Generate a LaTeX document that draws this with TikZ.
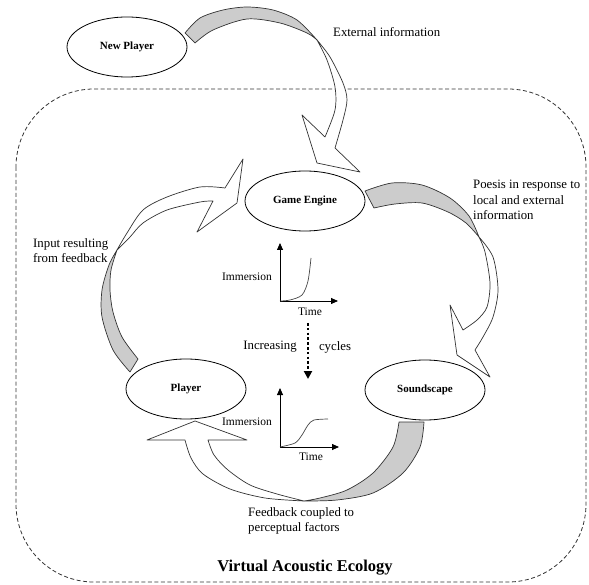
\documentclass[tikz,border=0pt]{standalone}
\usepackage{fontspec}
\setmainfont{Liberation Serif}
\usetikzlibrary{shapes.geometric,arrows.meta}
\definecolor{bandgray}{RGB}{204,204,204}
\definecolor{curvegray}{RGB}{70,70,70}
\begin{document}
\begin{tikzpicture}[x=1pt,y=-1pt,
  band/.style={draw=black!80, line width=0.7pt, line join=round},
  backface/.style={band, fill=bandgray},
  frontface/.style={band, fill=white},
  ell/.style={ellipse, draw=black, fill=white, line width=0.8pt, minimum width=120pt, minimum height=60pt, inner sep=0pt, font=\fontsize{11}{13}\selectfont\bfseries},
  txt/.style={font=\fontsize{12.8}{15.5}\selectfont, align=left, inner sep=0pt},
  small/.style={font=\fontsize{11.5}{13}\selectfont, inner sep=0pt},
  axis/.style={line width=0.8pt, -{Triangle[length=7pt,width=6pt]}},
  sgcurve/.style={draw=curvegray, line width=0.7pt},
  ecobox/.style={draw=black!80, line width=0.8pt, dash pattern=on 4pt off 2.5pt, rounded corners=78pt},
]
\useasboundingbox (0,0) rectangle (589,585);

% dashed ecology boundary
\draw[ecobox] (16,89) rectangle (586,582);

% ---- arrow 1: New Player -> Game Engine
\draw[backface] plot[smooth] coordinates {(185,33) (200,18) (223,10) (247,7) (273,10) (297,20) (317,40)}
  -- plot[smooth] coordinates {(317,40) (307,33) (280,23) (247,19) (213,30) (195,43)} -- cycle;
\draw[frontface] plot[smooth] coordinates {(317,40) (327,60) (335,87) (335,110) (325,137)}
  -- (302,115) -- (317,163) -- (360,172) -- (335,148)
  -- plot[smooth] coordinates {(335,148) (343,120) (347,100) (343,83) (330,57) (317,40)} -- cycle;

% ---- arrow 2: Game Engine -> Soundscape
\draw[backface] plot[smooth] coordinates {(365,191) (392,183) (422,185) (450,198) (469,216) (479,237)}
  -- plot[smooth] coordinates {(479,237) (466,223) (448,212) (422,203) (395,204) (374,208)} -- cycle;
\draw[frontface] plot[smooth] coordinates {(479,237) (485,252) (490,283) (487,307) (477,320) (463,330)}
  -- (450,305) -- (457,355) -- (490,377) -- (475,350)
  -- plot[smooth] coordinates {(475,350) (483,337) (493,317) (498,290) (493,257) (479,237)} -- cycle;

% ---- arrow 3: Soundscape -> Player
\draw[backface] plot[smooth] coordinates {(424,422) (420,447) (403,473) (373,493) (337,500) (304,501)}
  -- plot[smooth] coordinates {(304,501) (320,498) (347,490) (373,473) (393,447) (399,422)} -- cycle;
\draw[frontface] plot[smooth] coordinates {(304,501) (277,494) (250,485) (228,470) (214,455) (208,440)}
  -- (247,440) -- (195,421) -- (147,440) -- (185,440)
  -- plot[smooth] coordinates {(185,440) (191,458) (203,474) (230,489) (265,498) (304,501)} -- cycle;

% ---- arrow 4: Player -> Game Engine
\draw[backface] plot[smooth] coordinates {(130,372) (113,350) (102,317) (102,290) (109,265) (117,250)}
  -- plot[smooth] coordinates {(117,250) (111,270) (110,290) (113,312) (122,337) (138,359)} -- cycle;
\draw[frontface] plot[smooth] coordinates {(117,250) (130,237) (143,223) (167,210) (200,202) (213,201)}
  -- (197,232) -- (237,203) -- (243,159) -- (225,188)
  -- plot[smooth] coordinates {(225,188) (200,187) (167,197) (143,210) (127,233) (117,250)} -- cycle;

% ---- ellipses
\node[ell] (newplayer) at (127,47) {New Player};
\node[ell] (engine) at (305,201) {Game Engine};
\node[ell] (player) at (186,389) {Player};
\node[ell] (sound) at (425,390) {Soundscape};

% ---- labels
\node[txt, anchor=west] (extinfo) at (333,32) {External information};
\node[txt, anchor=west] (poesis) at (473,200) {Poesis in response to\\local and external\\information};
\node[txt, anchor=west] (input) at (33,250.5) {Input resulting\\from feedback};
\node[txt, anchor=west] (feedback) at (248,521) {Feedback coupled to\\perceptual factors};
\node[font=\fontsize{16.5}{18}\selectfont\bfseries, inner sep=0pt] (title) at (305,568) {Virtual Acoustic Ecology};

% ---- upper chart
\coordinate (o1) at (280,301);
\coordinate (y1) at (280,243);
\coordinate (x1) at (338,301);
\draw[axis] (o1) -- (y1);
\draw[axis] (o1) -- (x1);
\draw[sgcurve] plot[smooth] coordinates {(280,301) (290,300) (302,295) (308,281) (311,258)};
\node[small] (imm1) at (247,277) {Immersion};
\node[small] (time1) at (310,312) {Time};

% ---- increasing cycles
\coordinate (c1) at (308,323);
\coordinate (c2) at (308,379);
\draw[line width=2.6pt, dash pattern=on 2.6pt off 2.2pt, -{Triangle[length=8pt,width=8pt]}] (c1) -- (c2);
\node[txt] (incr) at (270,347) {Increasing};
\node[txt] (cyc) at (335,347) {cycles};

% ---- lower chart
\coordinate (o2) at (280,447);
\coordinate (y2) at (280,388);
\coordinate (x2) at (339,447);
\draw[axis] (o2) -- (y2);
\draw[axis] (o2) -- (x2);
\draw[sgcurve] plot[smooth] coordinates {(280,447) (295,443) (302,435) (308,425) (314,420) (328,419)};
\node[small] (imm2) at (247,422) {Immersion};
\node[small] (time2) at (311,457) {Time};
\end{tikzpicture}
\end{document}
